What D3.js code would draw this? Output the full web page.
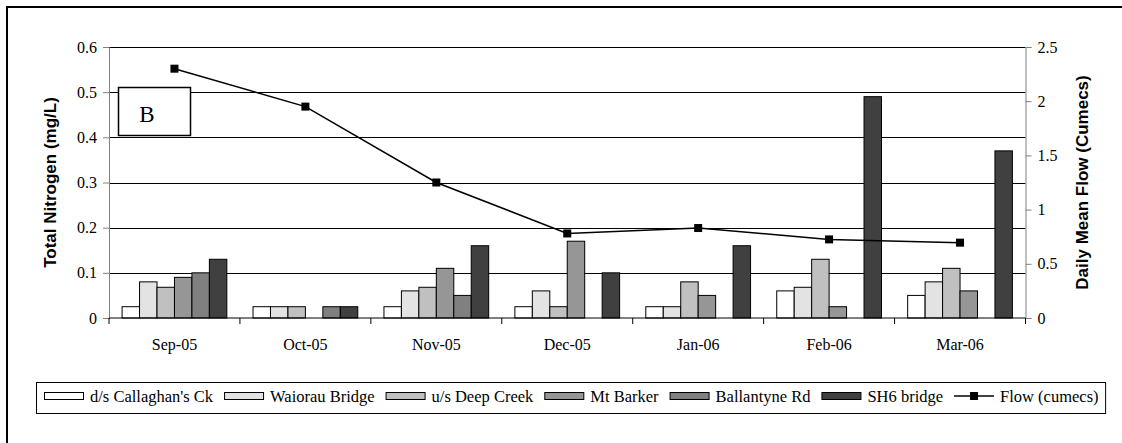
<!DOCTYPE html>
<html>
<head>
<meta charset="utf-8">
<style>
  body { margin: 0; background: #fff; }
  svg { display: block; }
  .tick text { font-family: "Liberation Serif", "Times New Roman", serif; font-size: 16px; fill: #000; }
  .title { font-family: "Liberation Sans", Arial, sans-serif; font-size: 17px; font-weight: bold; }
  .cat { font-family: "Liberation Serif", "Times New Roman", serif; font-size: 16px; }
  .leg { font-family: "Liberation Serif", "Times New Roman", serif; font-size: 16.5px; }
</style>
</head>
<body>
<svg width="1122" height="443"></svg>
<script src="https://cdn.jsdelivr.net/npm/d3@7"></script>
<script>
// data
var months = ["Sep-05", "Oct-05", "Nov-05", "Dec-05", "Jan-06", "Feb-06", "Mar-06"];
var sites = ["d/s Callaghan's Ck", "Waiorau Bridge", "u/s Deep Creek", "Mt Barker", "Ballantyne Rd", "SH6 bridge"];
var siteColors = ["#ffffff", "#e3e3e3", "#c0c0c0", "#969696", "#808080", "#404040"];
var callaghan = [0.025, 0.025, 0.025, 0.025, 0.025, 0.06, 0.05];
var waiorau   = [0.08, 0.025, 0.06, 0.06, 0.025, 0.068, 0.08];
var deepCreek = [0.068, 0.025, 0.068, 0.025, 0.08, 0.13, 0.11];
var mtBarker  = [0.09, null, 0.11, 0.17, 0.05, 0.025, 0.06];
var ballantyne = [0.1, 0.025, 0.05, null, null, null, null];
var sh6       = [0.13, 0.025, 0.16, 0.1, 0.16, 0.49, 0.37];
var flow      = [2.3, 1.95, 1.25, 0.78, 0.83, 0.725, 0.695];
var nTicks = [0, 0.1, 0.2, 0.3, 0.4, 0.5, 0.6];
var flowTicks = [0, 0.5, 1, 1.5, 2, 2.5];

var siteValues = [callaghan, waiorau, deepCreek, mtBarker, ballantyne, sh6];

var svg = d3.select("svg");
var plotL = 109, plotR = 1025.5, plotT = 47, plotB = 318;

// outer frame (runs off the right/bottom edge like the reference)
svg.append("rect")
  .attr("x", 7).attr("y", 7).attr("width", 1130).attr("height", 450)
  .attr("fill", "none").attr("stroke", "#000").attr("stroke-width", 2);

var x = d3.scaleBand().domain(months).range([plotL, plotR]).padding(0);
var x1 = d3.scaleBand().domain(d3.range(sites.length))
  .range([0, x.bandwidth()]).paddingInner(0).paddingOuter(0.75);
var y = d3.scaleLinear().domain([0, 0.6]).range([plotB, plotT]);
var y2 = d3.scaleLinear().domain([0, 2.5]).range([plotB, plotT]);

// gridlines
svg.append("g").selectAll("line")
  .data(nTicks.slice(1))
  .enter().append("line")
  .attr("x1", plotL).attr("x2", plotR)
  .attr("y1", function (d) { return Math.round(y(d)) + 0.5; })
  .attr("y2", function (d) { return Math.round(y(d)) + 0.5; })
  .attr("stroke", "#000").attr("stroke-width", 1);

// bars
var rows = [];
months.forEach(function (m, i) {
  siteValues.forEach(function (vals, s) {
    if (vals[i] != null) rows.push({ month: m, site: s, value: vals[i] });
  });
});
svg.append("g").selectAll("rect")
  .data(rows)
  .enter().append("rect")
  .attr("x", function (d) { return x(d.month) + x1(d.site); })
  .attr("y", function (d) { return y(d.value); })
  .attr("width", x1.bandwidth())
  .attr("height", function (d) { return plotB - y(d.value); })
  .attr("fill", function (d) { return siteColors[d.site]; })
  .attr("stroke", "#000").attr("stroke-width", 1);

// axes
var yAxis = svg.append("g")
  .attr("transform", "translate(" + plotL + ",0)")
  .call(d3.axisLeft(y).tickValues(nTicks).tickFormat(d3.format("~g")).tickSize(6).tickPadding(6));
var y2Axis = svg.append("g")
  .attr("transform", "translate(" + plotR + ",0)")
  .call(d3.axisRight(y2).tickValues(flowTicks).tickFormat(d3.format("~g")).tickSize(6).tickPadding(6));
[yAxis, y2Axis].forEach(function (a) {
  a.select(".domain").attr("stroke", "#808080");
  a.selectAll(".tick line").attr("stroke", "#808080");
});

var xAxis = svg.append("g").attr("transform", "translate(0," + plotB + ")");
xAxis.append("line").attr("x1", plotL).attr("x2", plotR).attr("stroke", "#000");
xAxis.selectAll("line.tk")
  .data(months.concat(["end"]))
  .enter().append("line")
  .attr("class", "tk")
  .attr("x1", function (d, i) { return plotL + i * x.step(); })
  .attr("x2", function (d, i) { return plotL + i * x.step(); })
  .attr("y1", 0).attr("y2", 6).attr("stroke", "#000");
xAxis.selectAll("text")
  .data(months)
  .enter().append("text")
  .attr("class", "cat")
  .attr("x", function (d) { return x(d) + x.bandwidth() / 2; })
  .attr("y", 32)
  .attr("text-anchor", "middle")
  .text(function (d) { return d; });

// flow line
var line = d3.line()
  .x(function (d, i) { return x(months[i]) + x.bandwidth() / 2; })
  .y(function (d) { return y2(d); });
svg.append("path").datum(flow)
  .attr("d", line).attr("fill", "none").attr("stroke", "#000").attr("stroke-width", 1.5);
svg.append("g").selectAll("rect")
  .data(flow)
  .enter().append("rect")
  .attr("x", function (d, i) { return x(months[i]) + x.bandwidth() / 2 - 4; })
  .attr("y", function (d) { return y2(d) - 4; })
  .attr("width", 8).attr("height", 8).attr("fill", "#000");

// axis titles
svg.append("text").attr("class", "title")
  .attr("transform", "translate(56," + (plotT + plotB) / 2 + ") rotate(-90)")
  .attr("text-anchor", "middle")
  .text("Total Nitrogen (mg/L)");
svg.append("text").attr("class", "title")
  .attr("transform", "translate(1088," + (plotT + plotB) / 2 + ") rotate(-90)")
  .attr("text-anchor", "middle")
  .text("Daily Mean Flow (Cumecs)");

// "B" label box
svg.append("rect").attr("x", 118.5).attr("y", 87.5).attr("width", 72).attr("height", 48)
  .attr("fill", "#fff").attr("stroke", "#000").attr("stroke-width", 1.5);
svg.append("text").attr("x", 147).attr("y", 122)
  .attr("text-anchor", "middle")
  .style("font-family", "'Liberation Serif', 'Times New Roman', serif")
  .style("font-size", "23px")
  .text("B");

// legend
var legend = svg.append("g");
var legBox = legend.append("rect")
  .attr("x", 36.5).attr("y", 382.5).attr("height", 31)
  .attr("fill", "#fff").attr("stroke", "#000");
var lx = 44;
var legItems = sites.map(function (s, i) { return { label: s, color: siteColors[i], kind: "bar" }; });
legItems.push({ label: "Flow (cumecs)", kind: "line" });
legItems.forEach(function (it) {
  if (it.kind === "bar") {
    legend.append("rect")
      .attr("x", lx + 0.5).attr("y", 392.5).attr("width", 39).attr("height", 7)
      .attr("fill", it.color).attr("stroke", "#000");
  } else {
    legend.append("line")
      .attr("x1", lx).attr("x2", lx + 40).attr("y1", 396).attr("y2", 396)
      .attr("stroke", "#000").attr("stroke-width", 1.5);
    legend.append("rect")
      .attr("x", lx + 16).attr("y", 392).attr("width", 8).attr("height", 8).attr("fill", "#000");
  }
  var t = legend.append("text").attr("class", "leg")
    .attr("x", lx + 46).attr("y", 402).text(it.label);
  lx = lx + 46 + t.node().getComputedTextLength() + 11;
});
legBox.attr("width", lx - 4 - 36.5);
</script>
</body>
</html>
